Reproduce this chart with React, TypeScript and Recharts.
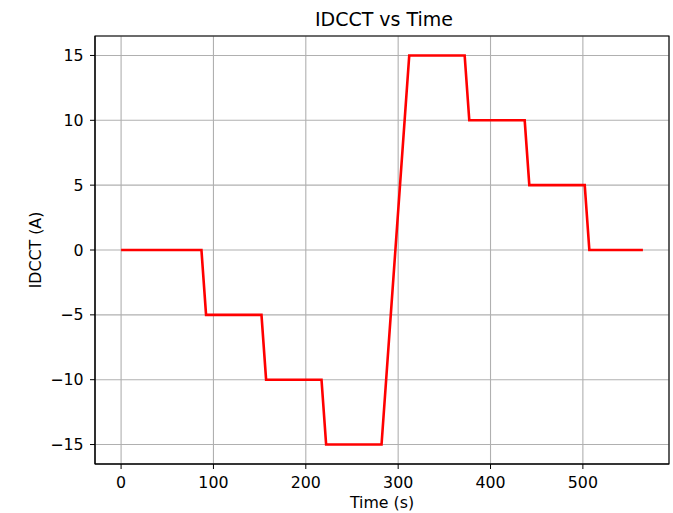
import React from 'react';
import { LineChart, Line, XAxis, YAxis, CartesianGrid, ReferenceArea } from 'recharts';

// breakpoints of the IDCCT staircase (time in s, current in A)
const times = [0, 87, 92, 152, 157, 217, 222, 282, 312, 372, 377, 437, 442, 502, 507, 565];
const currents = [0, 0, -5, -5, -10, -10, -15, -15, 15, 15, 10, 10, 5, 5, 0, 0];

const xTicks = [0, 100, 200, 300, 400, 500];
const yTicks = [-15, -10, -5, 0, 5, 10, 15];

const xDomain = [-28.25, 593.25];
const yDomain = [-16.5, 16.5];

const data = times.map((t, i) => ({ t, i: currents[i] }));

const font = 'DejaVu Sans, sans-serif';
const minus = (v: number) => String(v).replace('-', '\u2212');

export default function App() {
  return (
    <div style={{ position: 'absolute', left: 0, top: 0, width: 673, height: 513, background: '#fff', fontFamily: font }}>
      <div
        style={{
          position: 'absolute',
          top: 8,
          left: 95,
          width: 578,
          textAlign: 'center',
          fontSize: 19,
          color: '#000',
          lineHeight: '22px',
        }}
      >
        IDCCT vs Time
      </div>
      <LineChart width={673} height={513} data={data} margin={{ top: 36, right: 4, left: 0, bottom: 0 }}>
        <CartesianGrid stroke="#b0b0b0" strokeWidth={1.1} />
        <XAxis
          dataKey="t"
          type="number"
          domain={xDomain}
          ticks={xTicks}
          height={49}
          tickSize={5}
          tickMargin={8}
          allowDataOverflow
          stroke="#000"
          tick={{ fill: '#000', fontSize: 15.8, fontFamily: font }}
          label={{ value: 'Time (s)', position: 'center', dy: 14, fill: '#000', fontSize: 15.8, fontFamily: font }}
        />
        <YAxis
          type="number"
          domain={yDomain}
          ticks={yTicks}
          width={95}
          tickSize={5}
          tickMargin={6.5}
          allowDataOverflow
          stroke="#000"
          tickFormatter={minus}
          tick={{ fill: '#000', fontSize: 15.8, fontFamily: font }}
          label={{ value: 'IDCCT (A)', angle: -90, position: 'center', dx: -12, fill: '#000', fontSize: 15.8, fontFamily: font }}
        />
        <ReferenceArea
          x1={xDomain[0]}
          x2={xDomain[1]}
          y1={yDomain[0]}
          y2={yDomain[1]}
          fill="none"
          fillOpacity={0}
          stroke="#000"
          strokeWidth={1.1}
          ifOverflow="visible"
        />
        <Line type="linear" dataKey="i" stroke="#ff0000" strokeWidth={2.6} dot={false} isAnimationActive={false} />
      </LineChart>
    </div>
  );
}
